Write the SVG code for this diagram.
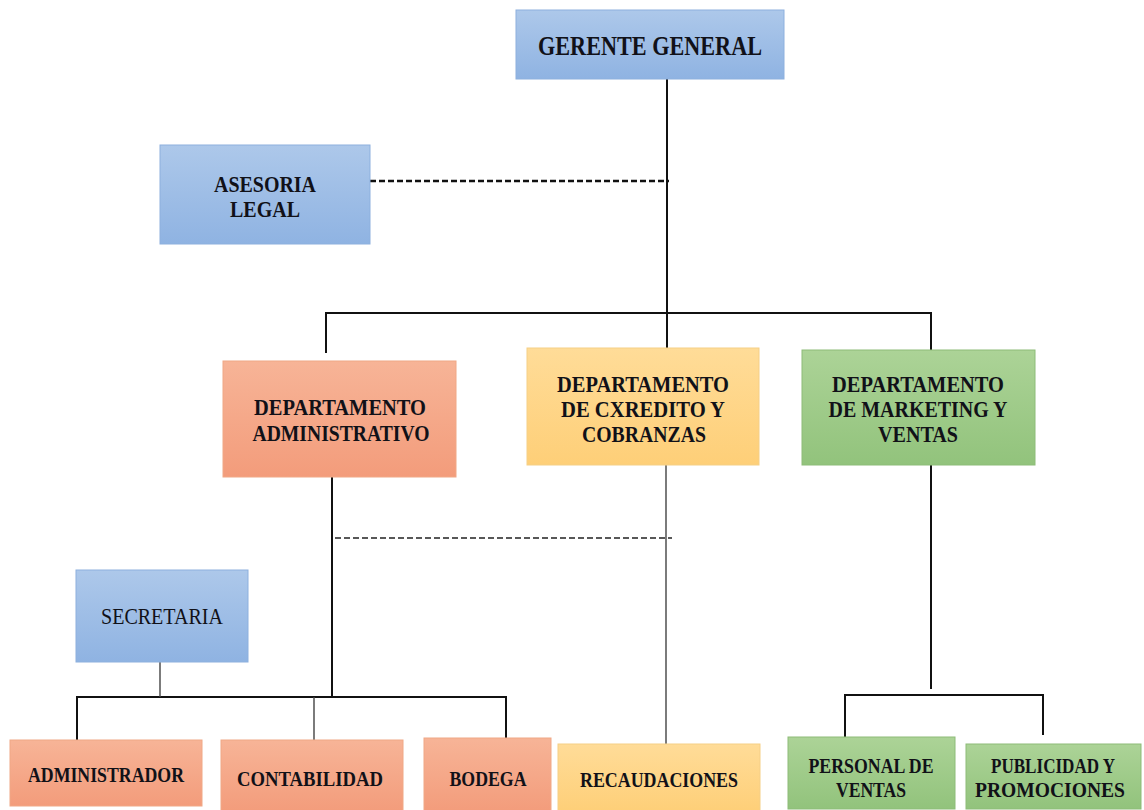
<svg xmlns="http://www.w3.org/2000/svg" width="1144" height="810" viewBox="0 0 1144 810" font-family="'Liberation Serif', 'DejaVu Serif', 'Times New Roman', serif">
<defs>
<linearGradient id="gBlue" x1="0" y1="0" x2="0" y2="1"><stop offset="0" stop-color="#adc8ea"/><stop offset="1" stop-color="#8fb3e2"/></linearGradient>
<linearGradient id="gOrange" x1="0" y1="0" x2="0" y2="1"><stop offset="0" stop-color="#f7b497"/><stop offset="1" stop-color="#f39c7b"/></linearGradient>
<linearGradient id="gYellow" x1="0" y1="0" x2="0" y2="1"><stop offset="0" stop-color="#ffdc98"/><stop offset="1" stop-color="#fecf78"/></linearGradient>
<linearGradient id="gGreen" x1="0" y1="0" x2="0" y2="1"><stop offset="0" stop-color="#acd397"/><stop offset="1" stop-color="#92c37c"/></linearGradient>
</defs>
<style>
.blue{fill:url(#gBlue);stroke:#8db0de;stroke-width:1}
.orange{fill:url(#gOrange);stroke:#f0a886;stroke-width:1}
.yellow{fill:url(#gYellow);stroke:#f5cf86;stroke-width:1}
.green{fill:url(#gGreen);stroke:#8dbc78;stroke-width:1}
text{font-family:'Liberation Serif','DejaVu Serif','Times New Roman',serif;font-weight:bold;fill:#111118;text-anchor:middle}
.t25{font-size:27px}
.t21{font-size:22.5px}
.t19{font-size:20px}
.normal{font-weight:normal}
.ln{stroke:#111;stroke-width:2;fill:none}
.thin{stroke:#444;stroke-width:1.4;fill:none}
.dash{stroke:#111;stroke-width:2.4;stroke-dasharray:6 3;fill:none}
.dash2{stroke:#222;stroke-width:1.3;stroke-dasharray:6 3;fill:none}
</style>
<rect width="1144" height="810" fill="#ffffff"/>
<g id="connectors">
<line class="ln" x1="667" y1="79" x2="667" y2="348"/>
<line class="dash" x1="370" y1="181" x2="669" y2="181"/>
<line class="ln" x1="326" y1="313" x2="931" y2="313"/>
<line class="ln" x1="326" y1="312" x2="326" y2="353"/>
<line class="ln" x1="931" y1="312" x2="931" y2="350"/>
<line class="ln" x1="332" y1="477" x2="332" y2="698"/>
<line class="dash2" x1="335" y1="538" x2="672" y2="538"/>
<line class="thin" x1="666" y1="465" x2="666" y2="744"/>
<line class="ln" x1="76" y1="697" x2="507" y2="697"/>
<line class="thin" x1="160" y1="662" x2="160" y2="697"/>
<line class="ln" x1="77" y1="697" x2="77" y2="740"/>
<line class="thin" x1="314" y1="697" x2="314" y2="740"/>
<line class="ln" x1="506" y1="697" x2="506" y2="738"/>
<line class="ln" x1="931" y1="465" x2="931" y2="689"/>
<line class="ln" x1="845" y1="695" x2="1044" y2="695"/>
<line class="ln" x1="845" y1="694" x2="845" y2="737"/>
<line class="ln" x1="1043" y1="694" x2="1043" y2="735"/>
</g>
<g id="gerente">
<rect class="blue" x="516" y="10" width="268" height="69"/>
<text class="t25" x="650" y="55" textLength="224" lengthAdjust="spacingAndGlyphs">GERENTE GENERAL</text>
</g>
<g id="asesoria">
<rect class="blue" x="160" y="145" width="210" height="99"/>
<text class="t21" x="265" y="192" textLength="102" lengthAdjust="spacingAndGlyphs">ASESORIA</text>
<text class="t21" x="265" y="217" textLength="70" lengthAdjust="spacingAndGlyphs">LEGAL</text>
</g>
<g id="dep-admin">
<rect class="orange" x="223" y="361" width="233" height="116"/>
<text class="t21" x="340" y="415" textLength="172" lengthAdjust="spacingAndGlyphs">DEPARTAMENTO</text>
<text class="t21" x="341" y="441" textLength="177" lengthAdjust="spacingAndGlyphs">ADMINISTRATIVO</text>
</g>
<g id="dep-credito">
<rect class="yellow" x="527" y="348" width="232" height="117"/>
<text class="t21" x="643" y="392" textLength="172" lengthAdjust="spacingAndGlyphs">DEPARTAMENTO</text>
<text class="t21" x="643" y="417" textLength="164" lengthAdjust="spacingAndGlyphs">DE CXREDITO Y</text>
<text class="t21" x="644" y="442" textLength="124" lengthAdjust="spacingAndGlyphs">COBRANZAS</text>
</g>
<g id="dep-marketing">
<rect class="green" x="802" y="350" width="233" height="115"/>
<text class="t21" x="918" y="392" textLength="172" lengthAdjust="spacingAndGlyphs">DEPARTAMENTO</text>
<text class="t21" x="918" y="417" textLength="179" lengthAdjust="spacingAndGlyphs">DE MARKETING Y</text>
<text class="t21" x="918" y="442" textLength="80" lengthAdjust="spacingAndGlyphs">VENTAS</text>
</g>
<g id="secretaria">
<rect class="blue" x="76" y="570" width="172" height="92"/>
<text class="t21 normal" x="162" y="624" textLength="122" lengthAdjust="spacingAndGlyphs">SECRETARIA</text>
</g>
<g id="administrador">
<rect class="orange" x="10" y="740" width="192" height="66"/>
<text class="t19" x="106" y="782" textLength="156" lengthAdjust="spacingAndGlyphs">ADMINISTRADOR</text>
</g>
<g id="contabilidad">
<rect class="orange" x="221" y="740" width="182" height="72"/>
<text class="t19" x="310" y="786" textLength="146" lengthAdjust="spacingAndGlyphs">CONTABILIDAD</text>
</g>
<g id="bodega">
<rect class="orange" x="424" y="738" width="127" height="74"/>
<text class="t19" x="488" y="786" textLength="77" lengthAdjust="spacingAndGlyphs">BODEGA</text>
</g>
<g id="recaudaciones">
<rect class="yellow" x="558" y="744" width="202" height="68"/>
<text class="t19" x="659" y="787" textLength="158" lengthAdjust="spacingAndGlyphs">RECAUDACIONES</text>
</g>
<g id="personal">
<rect class="green" x="788" y="737" width="167" height="72"/>
<text class="t19" x="871" y="773" textLength="125" lengthAdjust="spacingAndGlyphs">PERSONAL DE</text>
<text class="t19" x="871" y="797" textLength="70" lengthAdjust="spacingAndGlyphs">VENTAS</text>
</g>
<g id="publicidad">
<rect class="green" x="966" y="744" width="175" height="65"/>
<text class="t19" x="1053" y="773" textLength="124" lengthAdjust="spacingAndGlyphs">PUBLICIDAD Y</text>
<text class="t19" x="1050" y="797" textLength="150" lengthAdjust="spacingAndGlyphs">PROMOCIONES</text>
</g>
</svg>
